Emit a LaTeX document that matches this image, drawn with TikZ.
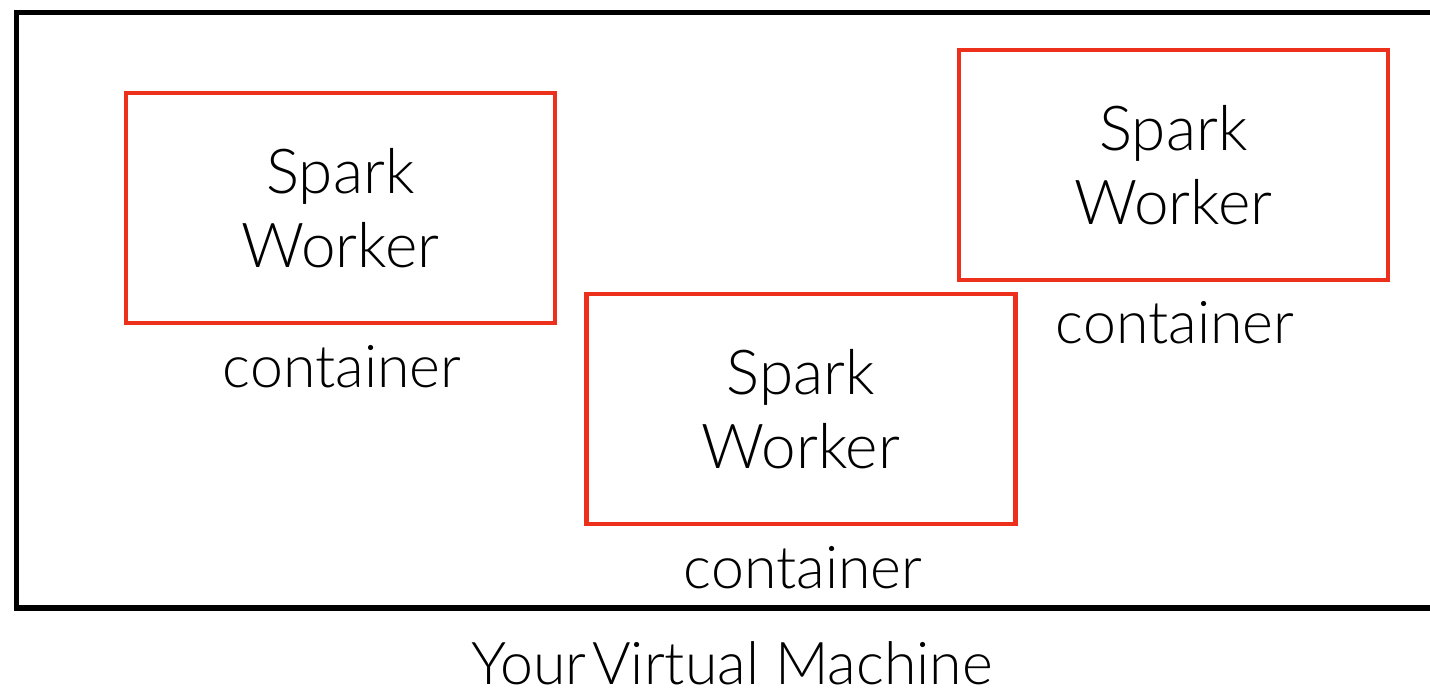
\documentclass[tikz,border=0pt]{standalone}
\usepackage{fontspec}
\setmainfont{Lato}[UprightFont=* Light]
\definecolor{boxred}{RGB}{236,48,28}
\begin{document}
\begin{tikzpicture}[x=0.5pt,y=-0.5pt,
  vm/.style={draw=black,line width=2.6pt},
  worker/.style={draw=boxred,line width=2.3pt,minimum width=214.5pt,minimum height=115pt,inner sep=0pt,
    align=center,font=\fontsize{31}{37}\selectfont},
  lbl/.style={inner sep=0pt,font=\fontsize{29.5}{34}\selectfont}]
\useasboundingbox (0,0) rectangle (1430,695);
\draw[vm] (16.5,12.5) rectangle (1450,608);
\node[worker] (w1) at (340.5,208) {Spark\\Worker};
\node[worker] (w2) at (801,409) {Spark\\Worker};
\node[worker] (w3) at (1173.5,165) {Spark\\Worker};
\node[lbl] (c1) at (342,367) {container};
\node[lbl] (c2) at (803,568) {container};
\node[lbl] (c3) at (1175,323) {container};
\node[lbl] (vmlabel) at (732,663) {Your\hspace{0.1em}Virtual Machine};
\end{tikzpicture}
\end{document}
